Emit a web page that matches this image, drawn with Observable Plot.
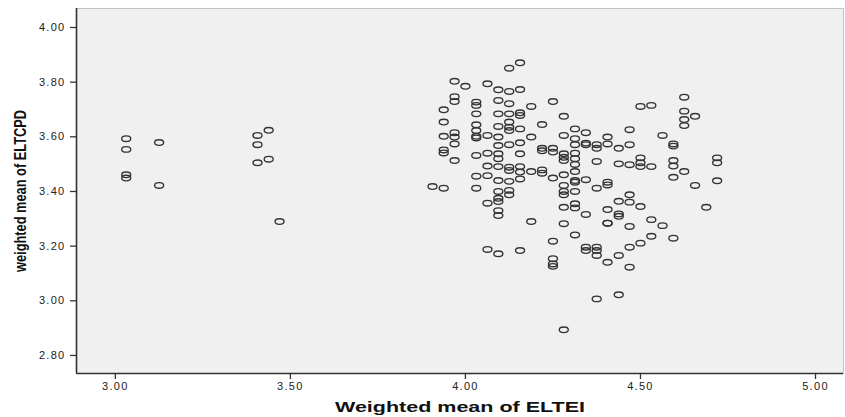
<!DOCTYPE html>
<html><head><meta charset="utf-8">
<script src="https://cdn.jsdelivr.net/npm/d3@7"></script>
<script src="https://cdn.jsdelivr.net/npm/@observablehq/plot@0.6"></script>
<style>
body{margin:0;background:#fff;}
#chart svg{display:block;}
</style></head><body><div id="chart"></div>
<script>
// Weighted mean of ELTEI (x) and weighted mean of ELTCPD (y), one entry per respondent
const eltei = [
  3.031,3.031,3.031,3.031,
  3.125,3.125,
  3.406,3.406,3.406,
  3.438,3.438,
  3.469,
  3.906,
  3.938,3.938,3.938,3.938,3.938,3.938,
  3.969,3.969,3.969,3.969,3.969,3.969,3.969,
  4.000,
  4.031,4.031,4.031,4.031,4.031,4.031,4.031,4.031,4.031,4.031,
  4.063,4.063,4.063,4.063,4.063,4.063,4.063,
  4.094,4.094,4.094,4.094,4.094,4.094,4.094,4.094,4.094,4.094,4.094,4.094,4.094,4.094,4.094,4.094,
  4.125,4.125,4.125,4.125,4.125,4.125,4.125,4.125,4.125,4.125,4.125,4.125,4.125,
  4.156,4.156,4.156,4.156,4.156,4.156,4.156,4.156,4.156,4.156,4.156,
  4.188,4.188,4.188,4.188,
  4.219,4.219,4.219,4.219,4.219,
  4.250,4.250,4.250,4.250,4.250,4.250,4.250,4.250,
  4.281,4.281,4.281,4.281,4.281,4.281,4.281,4.281,4.281,4.281,4.281,4.281,
  4.313,4.313,4.313,4.313,4.313,4.313,4.313,4.313,4.313,4.313,4.313,4.313,4.313,
  4.344,4.344,4.344,4.344,4.344,4.344,4.344,
  4.375,4.375,4.375,4.375,4.375,4.375,4.375,4.375,
  4.406,4.406,4.406,4.406,4.406,4.406,4.406,4.406,
  4.438,4.438,4.438,4.438,4.438,4.438,4.438,
  4.469,4.469,4.469,4.469,4.469,4.469,4.469,4.469,
  4.500,4.500,4.500,4.500,4.500,4.500,
  4.531,4.531,4.531,4.531,
  4.563,4.563,
  4.594,4.594,4.594,4.594,4.594,4.594,
  4.625,4.625,4.625,4.625,4.625,
  4.656,4.656,
  4.688,
  4.719,4.719,4.719
];
const eltcpd = [
  3.593,3.554,3.461,3.449,
  3.579,3.422,
  3.605,3.571,3.505,
  3.624,3.518,
  3.290,
  3.418,
  3.699,3.654,3.602,3.552,3.541,3.412,
  3.803,3.747,3.729,3.615,3.599,3.574,3.513,
  3.785,
  3.727,3.715,3.684,3.644,3.623,3.602,3.596,3.532,3.456,3.412,
  3.794,3.605,3.540,3.493,3.458,3.357,3.188,
  3.772,3.733,3.684,3.638,3.599,3.568,3.538,3.520,3.491,3.440,3.400,3.375,3.363,3.330,3.312,3.172,
  3.851,3.766,3.721,3.684,3.654,3.635,3.623,3.571,3.489,3.477,3.437,3.404,3.388,
  3.871,3.773,3.688,3.678,3.629,3.578,3.538,3.491,3.471,3.446,3.184,
  3.711,3.599,3.473,3.290,
  3.645,3.558,3.549,3.479,3.467,
  3.729,3.558,3.544,3.449,3.218,3.154,3.135,3.126,
  3.675,3.605,3.538,3.525,3.513,3.461,3.422,3.400,3.388,3.342,3.282,2.894,
  3.629,3.593,3.571,3.540,3.520,3.499,3.473,3.440,3.434,3.400,3.355,3.340,3.241,
  3.615,3.577,3.571,3.443,3.316,3.196,3.184,
  3.571,3.558,3.510,3.412,3.196,3.184,3.166,3.007,
  3.599,3.574,3.434,3.424,3.334,3.284,3.284,3.141,
  3.558,3.501,3.364,3.318,3.309,3.166,3.022,
  3.626,3.571,3.498,3.388,3.361,3.272,3.196,3.123,
  3.711,3.523,3.505,3.491,3.345,3.211,
  3.715,3.491,3.297,3.236,
  3.605,3.275,
  3.574,3.566,3.513,3.493,3.452,3.229,
  3.745,3.694,3.663,3.641,3.473,
  3.675,3.422,
  3.342,
  3.523,3.505,3.439
];
const xTicks = [3.0, 3.5, 4.0, 4.5, 5.0];
const yTicks = [2.8, 3.0, 3.2, 3.4, 3.6, 3.8, 4.0];
const xDomain = [2.889, 5.08];
const yDomain = [2.734, 4.0695];
const xLabel = "Weighted mean of ELTEI";
const yLabel = "weighted mean of ELTCPD";

const data = eltei.map((x, i) => ({x, y: eltcpd[i]}));

// hollow ellipse marker (SPSS-style "o")
const ellipseSymbol = {
  draw(ctx) {
    const rx = 4.5, ry = 2.8, k = 0.5523;
    ctx.moveTo(rx, 0);
    ctx.bezierCurveTo(rx, ry * k, rx * k, ry, 0, ry);
    ctx.bezierCurveTo(-rx * k, ry, -rx, ry * k, -rx, 0);
    ctx.bezierCurveTo(-rx, -ry * k, -rx * k, -ry, 0, -ry);
    ctx.bezierCurveTo(rx * k, -ry, rx, -ry * k, rx, 0);
    ctx.closePath();
  }
};

const chart = Plot.plot({
  width: 845,
  height: 417,
  marginLeft: 76,
  marginRight: 2,
  marginTop: 8,
  marginBottom: 44,
  style: {fontFamily: "'Liberation Sans', Arial, sans-serif", background: "#fff", color: "#222"},
  x: {domain: xDomain},
  y: {domain: yDomain},
  marks: [
    Plot.frame({fill: "#f0f0f0", stroke: "#c4c4c4"}),
    Plot.ruleX([xDomain[0]], {stroke: "#333", strokeWidth: 1.6}),
    Plot.ruleY([yDomain[0]], {stroke: "#333", strokeWidth: 1.6}),
    Plot.axisX({ticks: xTicks, tickFormat: d3.format(".2f"), tickSize: 6, tickPadding: 3,
      label: xLabel, labelAnchor: "center", labelArrow: "none", labelOffset: 38, fontSize: 11}),
    Plot.axisY({ticks: yTicks, tickFormat: d3.format(".2f"), tickSize: 6, tickPadding: 5,
      label: yLabel, labelAnchor: "center", labelArrow: "none", labelOffset: 62, fontSize: 11}),
    Plot.dot(data, {x: "x", y: "y", symbol: ellipseSymbol, stroke: "#333", strokeWidth: 1.35, fill: "none"})
  ]
});

const svg = d3.select(chart);
svg.selectAll('g[aria-label="x-axis tick label"] text, g[aria-label="y-axis tick label"] text')
  .style("letter-spacing", "1.3px").style("fill", "#222");
svg.selectAll('g[aria-label="x-axis tick"] path, g[aria-label="y-axis tick"] path')
  .style("stroke", "#333").style("stroke-width", "1.3");
svg.selectAll('g[aria-label="x-axis label"] text')
  .style("font-weight", "bold").style("font-size", "15px")
  .attr("textLength", 250).attr("lengthAdjust", "spacingAndGlyphs")
  .style("font-family", "'Liberation Sans', Arial, sans-serif").style("fill", "#111");
svg.selectAll('g[aria-label="y-axis label"] text')
  .style("font-weight", "bold").style("font-size", "16px")
  .attr("textLength", 162).attr("lengthAdjust", "spacingAndGlyphs")
  .style("font-family", "'Liberation Sans', Arial, sans-serif").style("fill", "#111");
document.getElementById("chart").appendChild(chart);
</script></body></html>
